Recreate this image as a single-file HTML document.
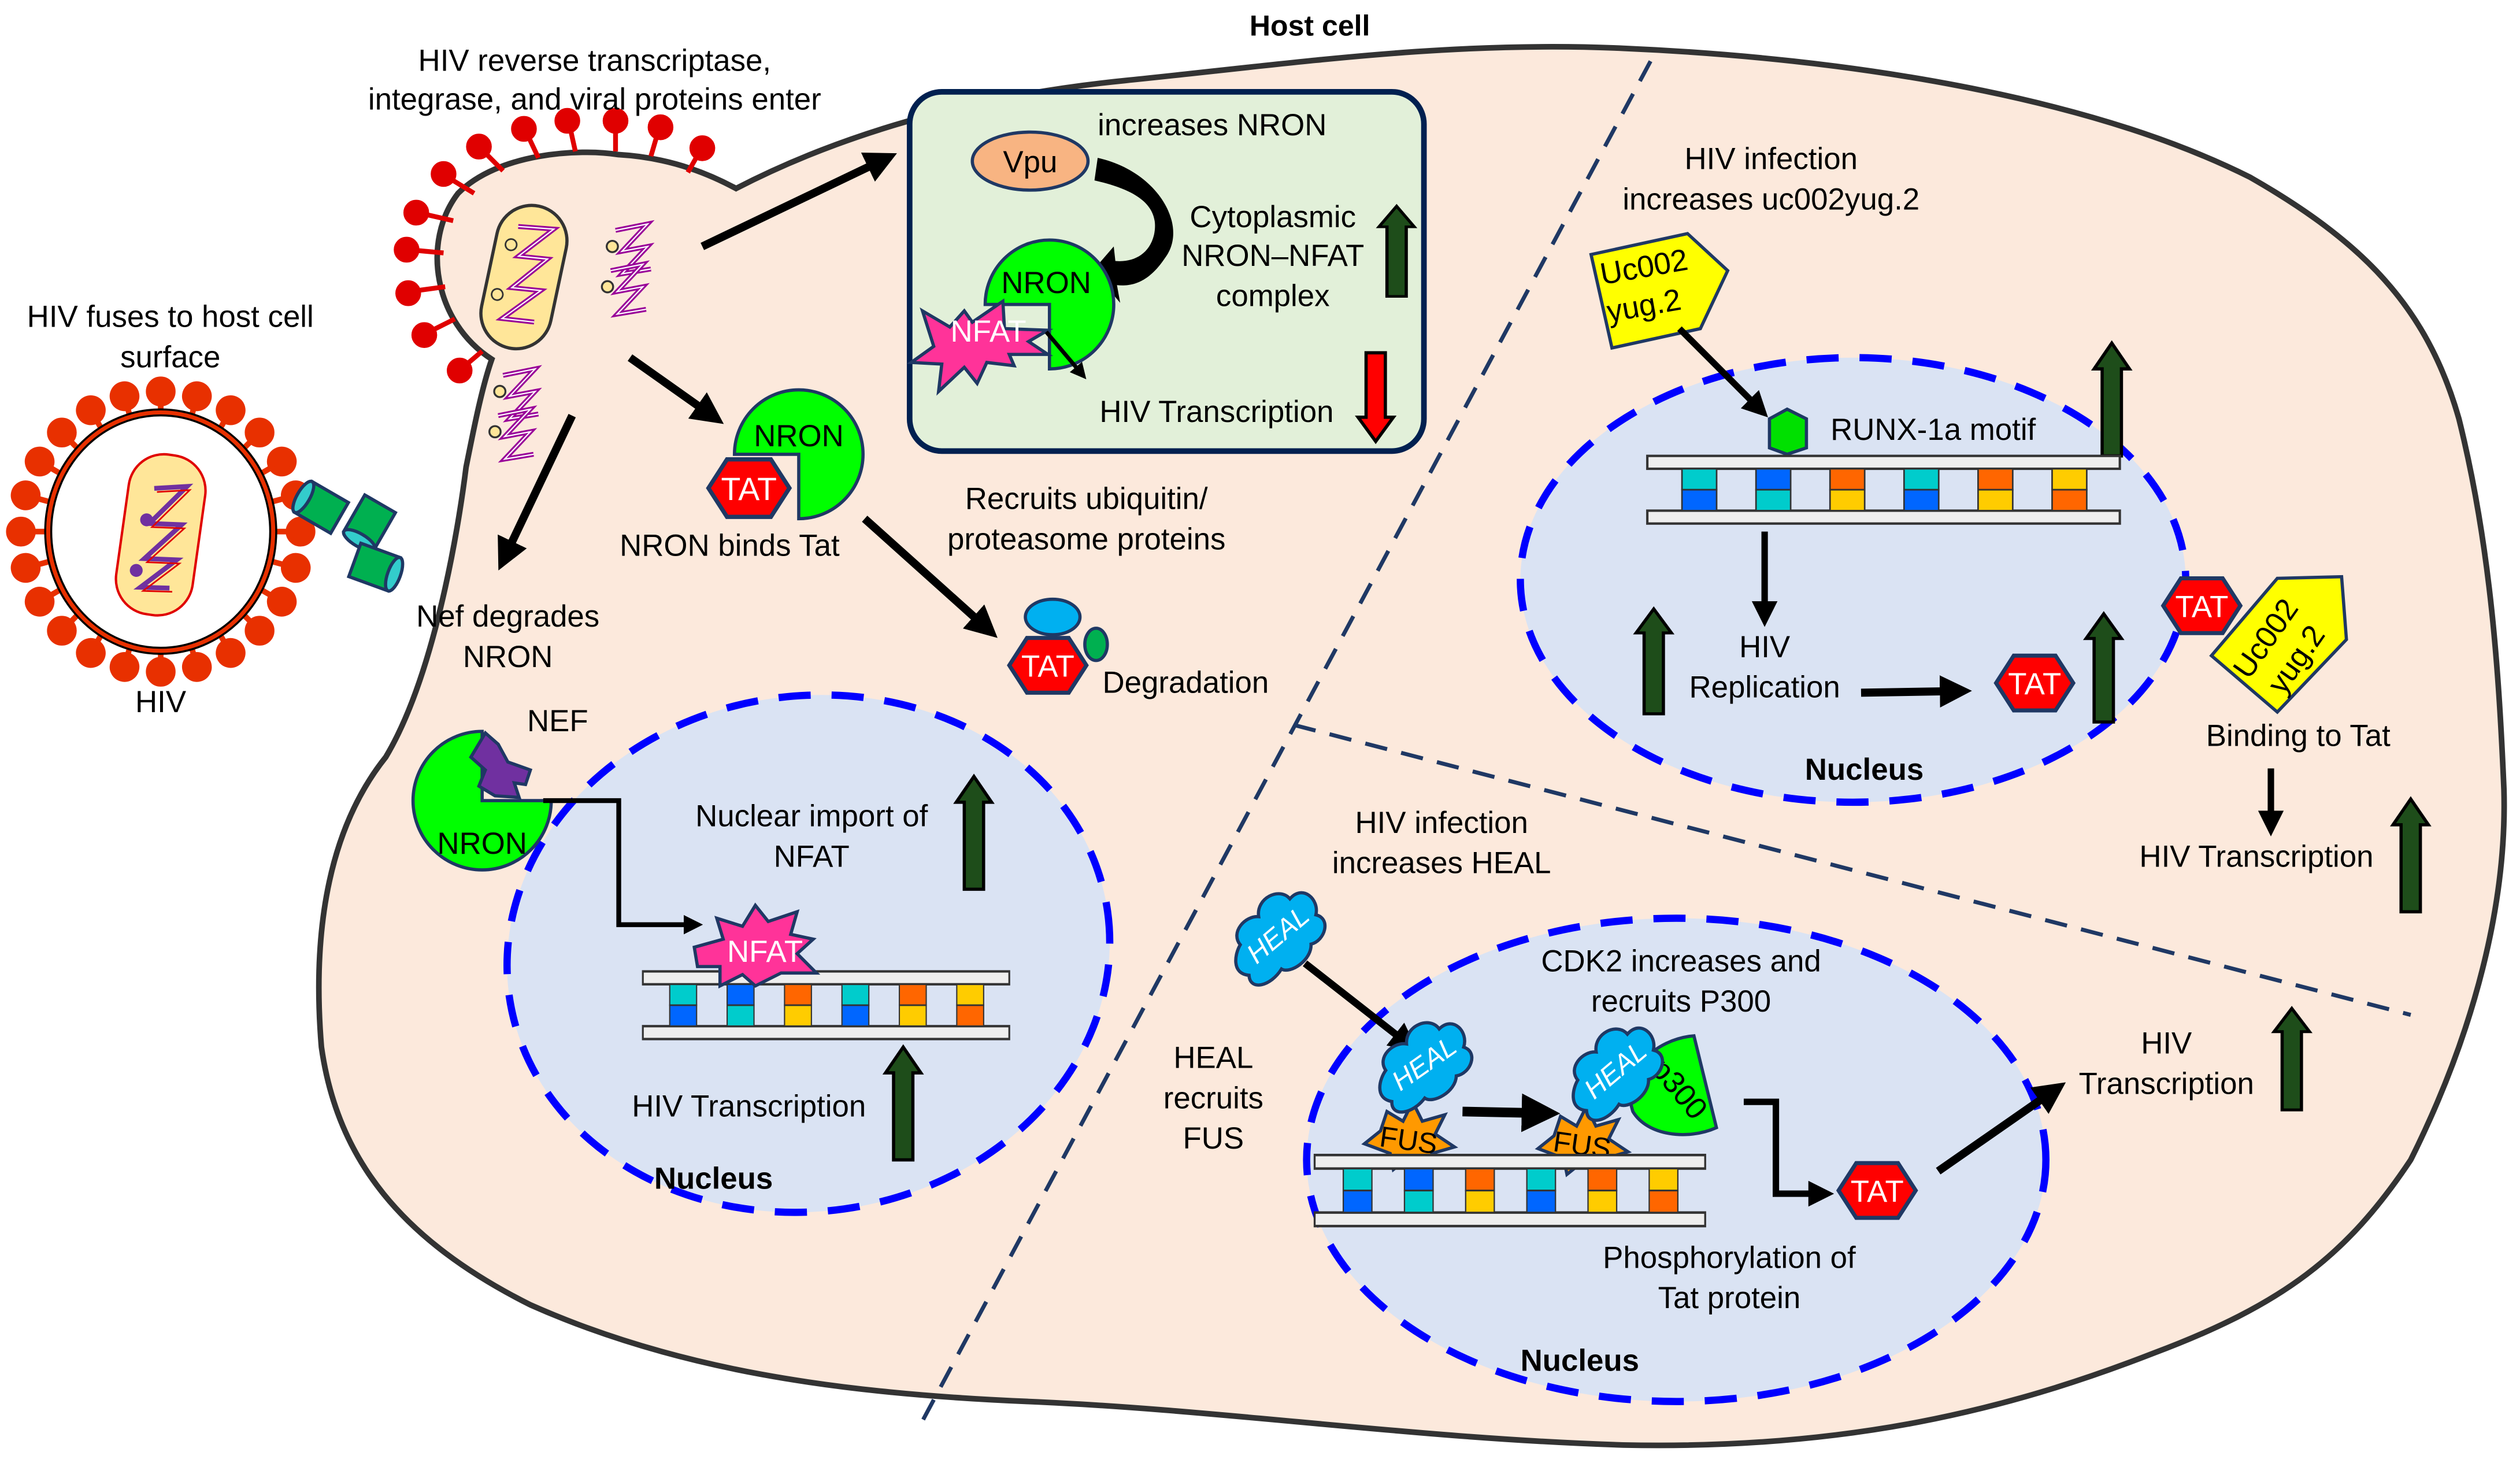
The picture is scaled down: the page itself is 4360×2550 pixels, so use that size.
<!DOCTYPE html>
<html><head><meta charset="utf-8"><style>
html,body{margin:0;padding:0;background:#fff;}
svg{display:block;}
text{font-family:"Liberation Sans",sans-serif;fill:#000;}
</style></head><body>
<svg width="4360" height="2550" viewBox="0 0 1568 915" preserveAspectRatio="none" xmlns="http://www.w3.org/2000/svg">
<defs>
<marker id="ah" markerWidth="4" markerHeight="4" refX="2.2" refY="2" orient="auto" markerUnits="strokeWidth"><path d="M0,0 L4,2 L0,4 Z" fill="#000"/></marker>
<g id="tat"><polygon points="-24,0 -13,-17 13,-17 24,0 13,17 -13,17" fill="#ff0000" stroke="#1f3864" stroke-width="2.5"/><text x="0" y="7" font-size="19" text-anchor="middle" style="fill:#fff">TAT</text></g>
<g id="up"><polygon points="-11,16 0,0 11,16 6,16 6,70 -6,70 -6,16" fill="#1e4d1a" stroke="#000" stroke-width="2"/></g>
<g id="dna">
<rect x="0" y="0" width="300" height="8" fill="#eee" stroke="#333" stroke-width="1.5"/>
<rect x="0" y="34" width="300" height="8" fill="#eee" stroke="#333" stroke-width="1.5"/>
<g stroke="#333" stroke-width="1">
<rect x="22" y="8" width="22" height="13" fill="#00cccc"/><rect x="22" y="21" width="22" height="13" fill="#0066ff"/>
<rect x="69" y="8" width="22" height="13" fill="#0066ff"/><rect x="69" y="21" width="22" height="13" fill="#00cccc"/>
<rect x="116" y="8" width="22" height="13" fill="#ff6600"/><rect x="116" y="21" width="22" height="13" fill="#ffcc00"/>
<rect x="163" y="8" width="22" height="13" fill="#00cccc"/><rect x="163" y="21" width="22" height="13" fill="#0066ff"/>
<rect x="210" y="8" width="22" height="13" fill="#ff6600"/><rect x="210" y="21" width="22" height="13" fill="#ffcc00"/>
<rect x="257" y="8" width="22" height="13" fill="#ffcc00"/><rect x="257" y="21" width="22" height="13" fill="#ff6600"/>
</g></g>
<g id="rna" fill="none"><path d="M0,0 L20,-4 L4,13 L20,10 L4,27 L22,24" stroke="#990099" stroke-width="3"/><path d="M0,0 L20,-4 L4,13 L20,10 L4,27 L22,24" stroke="#fff" stroke-width="0.8"/><circle cx="-2" cy="10" r="3.5" fill="#ffe699" stroke="#333" stroke-width="1.2"/></g>
<g id="heal"><path d="M-30,8 C-38,0 -28,-8 -22,-10 C-22,-20 -8,-22 -2,-16 C4,-26 20,-22 20,-12 C32,-14 34,0 26,6 C32,14 20,22 12,18 C6,26 -10,24 -12,18 C-24,22 -36,16 -30,8 Z" fill="#00b0f0" stroke="#1f3864" stroke-width="2"/><text x="0" y="6" font-size="17" text-anchor="middle" font-style="italic" style="fill:#fff">HEAL</text></g>
<g id="fus"><polygon points="-28,6 -18,-2 -14,-14 -4,-8 2,-20 8,-8 22,-12 16,0 28,8 14,12 10,22 0,14 -10,22 -12,12" fill="#ff9900" stroke="#1f3864" stroke-width="2"/><text x="0" y="10" font-size="18" text-anchor="middle" transform="rotate(8)">FUS</text></g>
</defs>

<!-- host cell -->
<path d="M458,117 C520,85 600,60 700,50 C800,40 900,25 1010,30 C1150,36 1300,60 1400,110 C1470,150 1510,190 1530,260 C1550,340 1555,420 1558,490 C1560,560 1540,640 1500,720 C1460,780 1420,810 1340,840 C1250,875 1150,900 1010,897 C880,893 760,875 640,870 C520,865 420,850 330,810 C250,770 210,720 200,650 C195,590 200,520 240,470 C270,420 285,330 290,290 C295,265 300,240 306,223 C270,200 262,150 285,120 C310,95 360,92 385,96 C420,98 445,110 458,117 Z" fill="#fce9dc" stroke="#333" stroke-width="3.5"/>

<!-- spikes on entering virus -->
<g stroke="#e00000" stroke-width="3" fill="#e00000">
<line x1="300" y1="218" x2="287" y2="229"/><circle cx="286" cy="230" r="6.5"/>
<line x1="283" y1="198" x2="265" y2="207"/><circle cx="264" cy="208" r="6.5"/>
<line x1="277" y1="178" x2="255" y2="181"/><circle cx="254" cy="182" r="6.5"/>
<line x1="276" y1="157" x2="254" y2="155"/><circle cx="253" cy="155" r="6.5"/>
<line x1="282" y1="137" x2="260" y2="132"/><circle cx="259" cy="132" r="6.5"/>
<line x1="295" y1="120" x2="277" y2="109"/><circle cx="276" cy="108" r="6.5"/>
<line x1="313" y1="106" x2="299" y2="92"/><circle cx="298" cy="91" r="6.5"/>
<line x1="335" y1="98" x2="327" y2="81"/><circle cx="326" cy="80" r="6.5"/>
<line x1="358" y1="94" x2="354" y2="76"/><circle cx="353" cy="75" r="6.5"/>
<line x1="383" y1="94" x2="383" y2="76"/><circle cx="383" cy="75" r="6.5"/>
<line x1="405" y1="97" x2="410" y2="80"/><circle cx="411" cy="79" r="6.5"/>
<line x1="428" y1="107" x2="436" y2="93"/><circle cx="437" cy="92" r="6.5"/>
</g>
<!-- capsid entering -->
<g transform="translate(326,172) rotate(12)"><rect x="-22" y="-45" width="44" height="90" rx="22" fill="#ffe699" stroke="#333" stroke-width="2"/>
<path d="M-10,-30 L12,-33 L-6,-12 L12,-14 L-6,8 L12,6 L-8,28 L12,26" fill="none" stroke="#990099" stroke-width="3"/>
<path d="M-10,-30 L12,-33 L-6,-12 L12,-14 L-6,8 L12,6 L-8,28 L12,26" fill="none" stroke="#fff" stroke-width="0.8"/>
<circle cx="-12" cy="-18" r="3.5" fill="#ffe699" stroke="#333"/><circle cx="-14" cy="14" r="3.5" fill="#ffe699" stroke="#333"/></g>
<use href="#rna" x="383" y="143"/>
<use href="#rna" x="380" y="168"/>
<use href="#rna" x="313" y="233"/>
<use href="#rna" x="310" y="258"/>

<!-- HIV virus outside -->
<g stroke="#e83000" stroke-width="3.5" fill="#e83000">
<g id="sp"><line x1="100" y1="262" x2="100" y2="248"/><circle cx="100" cy="243" r="7.5"/></g>
<use href="#sp" transform="rotate(15 100 330)"/><use href="#sp" transform="rotate(30 100 330)"/><use href="#sp" transform="rotate(45 100 330)"/><use href="#sp" transform="rotate(60 100 330)"/><use href="#sp" transform="rotate(75 100 330)"/><use href="#sp" transform="rotate(90 100 330)"/><use href="#sp" transform="rotate(105 100 330)"/><use href="#sp" transform="rotate(120 100 330)"/><use href="#sp" transform="rotate(135 100 330)"/><use href="#sp" transform="rotate(150 100 330)"/><use href="#sp" transform="rotate(165 100 330)"/><use href="#sp" transform="rotate(180 100 330)"/><use href="#sp" transform="rotate(195 100 330)"/><use href="#sp" transform="rotate(210 100 330)"/><use href="#sp" transform="rotate(225 100 330)"/><use href="#sp" transform="rotate(240 100 330)"/><use href="#sp" transform="rotate(255 100 330)"/><use href="#sp" transform="rotate(270 100 330)"/><use href="#sp" transform="rotate(285 100 330)"/><use href="#sp" transform="rotate(300 100 330)"/><use href="#sp" transform="rotate(315 100 330)"/><use href="#sp" transform="rotate(330 100 330)"/><use href="#sp" transform="rotate(345 100 330)"/>
</g>
<ellipse cx="100" cy="330" rx="70" ry="74" fill="#fff" stroke="#000" stroke-width="5"/>
<ellipse cx="100" cy="330" rx="70" ry="74" fill="none" stroke="#e83000" stroke-width="2.5"/>
<g transform="translate(100,332) rotate(8)"><rect x="-24" y="-50" width="48" height="100" rx="22" fill="#ffe699" stroke="#e00000" stroke-width="1.5"/>
<path d="M-8,-28 L12,-32 L-8,-6 L12,-8 L-8,16 L12,14 L-8,34 L10,32" fill="none" stroke="#7030a0" stroke-width="3"/>
<path d="M-8,-28 L12,-32 L-8,-6 L12,-8 L-8,16 L12,14 L-8,34 L10,32" fill="none" stroke="#e00000" stroke-width="1" transform="translate(2,2)"/>
<circle cx="-10" cy="-8" r="4" fill="#7030a0"/><circle cx="-12" cy="24" r="4" fill="#7030a0"/></g>
<!-- receptor cylinders -->
<g fill="#00b050" stroke="#1f3864" stroke-width="2">
<g transform="translate(200,315) rotate(30)"><rect x="-13" y="-11" width="26" height="22"/><ellipse cx="-13" cy="0" rx="4" ry="11" fill="#33cccc"/></g>
<g transform="translate(230,324) rotate(-60)"><rect x="-13" y="-11" width="26" height="22"/><ellipse cx="-13" cy="0" rx="4" ry="11" fill="#33cccc"/></g>
<g transform="translate(233,352) rotate(20)"><rect x="-13" y="-11" width="26" height="22"/><ellipse cx="13" cy="0" rx="4" ry="11" fill="#33cccc"/></g>
</g>

<!-- dashed dividers -->
<g stroke="#1f3864" stroke-width="2.5" stroke-dasharray="14,9" fill="none">
<line x1="1027" y1="38" x2="574" y2="882"/>
<line x1="805" y1="450" x2="1500" y2="630"/>
</g>

<!-- nuclei -->
<g fill="#dae3f3" stroke="#0000ff" stroke-width="4.5" stroke-dasharray="20,13">
<ellipse cx="503" cy="592" rx="188" ry="160" transform="rotate(-8 503 592)"/>
<ellipse cx="1153" cy="360" rx="207" ry="138"/>
<ellipse cx="1043" cy="720" rx="230" ry="150"/>
</g>

<!-- green box -->
<rect x="566" y="57" width="320" height="223" rx="20" fill="#e2f0d9" stroke="#002050" stroke-width="3.5"/>
<ellipse cx="641" cy="100" rx="36" ry="18" fill="#f8b482" stroke="#1f3864" stroke-width="2"/>
<text x="641" y="107" font-size="19" text-anchor="middle">Vpu</text>
<text x="683" y="84" font-size="19">increases NRON</text>
<path d="M683,98 C720,106 740,140 725,160 C715,175 705,178 695,177 L697,188 L680,168 L693,153 L694,162 C705,163 715,158 718,146 C722,128 708,118 681,112 Z" fill="#000"/>
<path d="M653,189 L653,229 A40,40 0 1 0 613,189 Z" fill="#00ff00" stroke="#1f3864" stroke-width="2"/>
<text x="651" y="182" font-size="19" text-anchor="middle">NRON</text>
<polygon points="574,193 591,203 600,193 605,200 624,187 625,204 652,205 640,212 652,220 628,220 631,227 614,225 608,238 600,228 584,243 586,226 567,225 581,215" fill="#ff3399" stroke="#1f3864" stroke-width="2"/>
<text x="615" y="212" font-size="19" text-anchor="middle" style="fill:#fff">NFAT</text>
<line x1="651" y1="206" x2="673" y2="232" stroke="#000" stroke-width="2.5" marker-end="url(#ah)"/>
<text x="792" y="141" font-size="19" text-anchor="middle">Cytoplasmic</text>
<text x="792" y="165" font-size="19" text-anchor="middle">NRON–NFAT</text>
<text x="792" y="190" font-size="19" text-anchor="middle">complex</text>
<use href="#up" transform="translate(869,128) scale(1,0.8)"/>
<text x="757" y="262" font-size="19" text-anchor="middle">HIV Transcription</text>
<polygon points="-6,0 6,0 6,40 11,40 0,55 -11,40 -6,40" transform="translate(856,219)" fill="#ff0000" stroke="#000" stroke-width="2"/>

<!-- top texts -->
<text x="815" y="22" font-size="18" font-weight="bold" text-anchor="middle">Host cell</text>
<text x="370" y="44" font-size="19" text-anchor="middle">HIV reverse transcriptase,</text>
<text x="370" y="68" font-size="19" text-anchor="middle">integrase, and viral proteins enter</text>
<text x="106" y="203" font-size="19" text-anchor="middle">HIV fuses to host cell</text>
<text x="106" y="228" font-size="19" text-anchor="middle">surface</text>
<text x="100" y="442" font-size="19" text-anchor="middle">HIV</text>

<!-- arrows from entering virus -->
<g stroke="#000" stroke-width="5" fill="none">
<line x1="437" y1="153" x2="550" y2="99" marker-end="url(#ah)"/>
<line x1="392" y1="222" x2="443" y2="258" marker-end="url(#ah)"/>
<line x1="356" y1="258" x2="314" y2="346" marker-end="url(#ah)"/>
<line x1="538" y1="322" x2="614" y2="390" marker-end="url(#ah)"/>
</g>

<!-- NRON binds Tat -->
<path d="M497,282 L497,322 A40,40 0 1 0 457,282 Z" fill="#00ff00" stroke="#1f3864" stroke-width="2"/>
<text x="497" y="277" font-size="19" text-anchor="middle">NRON</text>
<use href="#tat" transform="translate(466,303) scale(1.05)"/>
<text x="454" y="345" font-size="19" text-anchor="middle">NRON binds Tat</text>
<text x="676" y="316" font-size="19" text-anchor="middle">Recruits ubiquitin/</text>
<text x="676" y="341" font-size="19" text-anchor="middle">proteasome proteins</text>
<ellipse cx="655" cy="383" rx="17" ry="11" fill="#00b0f0" stroke="#1f3864" stroke-width="2"/>
<ellipse cx="682" cy="400" rx="7" ry="10" fill="#00b050" stroke="#1f3864" stroke-width="2"/>
<use href="#tat" transform="translate(652,413)"/>
<text x="686" y="430" font-size="19">Degradation</text>

<!-- Nef -->
<text x="316" y="389" font-size="19" text-anchor="middle">Nef degrades</text>
<text x="316" y="414" font-size="19" text-anchor="middle">NRON</text>
<text x="328" y="454" font-size="19">NEF</text>
<path d="M300,497 L343,497 A43,43 0 1 1 300,454 Z" fill="#00ff00" stroke="#1f3864" stroke-width="2"/>
<text x="300" y="530" font-size="19" text-anchor="middle">NRON</text>
<polygon points="302,455 310,462 316,473 330,478 327,487 320,486 323,495 308,494 298,488 302,478 293,470" fill="#7030a0" stroke="#1f3864" stroke-width="2"/>
<polyline points="338,497 385,497 385,574 432,574" fill="none" stroke="#000" stroke-width="3" marker-end="url(#ah)"/>

<!-- Nucleus 1 contents -->
<text x="505" y="513" font-size="19" text-anchor="middle">Nuclear import of</text>
<text x="505" y="538" font-size="19" text-anchor="middle">NFAT</text>
<use href="#up" transform="translate(606,482)"/>
<use href="#dna" transform="translate(400,603) scale(0.76,1)"/>
<polygon points="432,588 450,583 446,570 462,575 470,562 478,572 496,566 492,580 506,583 496,592 508,604 486,604 470,612 462,605 448,612 448,600 434,600" fill="#ff3399" stroke="#1f3864" stroke-width="2"/>
<text x="476" y="597" font-size="19" text-anchor="middle" style="fill:#fff">NFAT</text>
<text x="466" y="693" font-size="19" text-anchor="middle">HIV Transcription</text>
<use href="#up" transform="translate(562,650)"/>
<text x="444" y="738" font-size="19" font-weight="bold" text-anchor="middle">Nucleus</text>

<!-- Nucleus 2 (uc002) -->
<text x="1102" y="105" font-size="19" text-anchor="middle">HIV infection</text>
<text x="1102" y="130" font-size="19" text-anchor="middle">increases uc002yug.2</text>
<polygon points="990,158 1050,145 1075,168 1058,204 1003,216" fill="#ffff00" stroke="#1f3864" stroke-width="2"/>
<text x="1024" y="172" font-size="19" text-anchor="middle" transform="rotate(-10 1024 172)">Uc002</text>
<text x="1024" y="196" font-size="19" text-anchor="middle" transform="rotate(-10 1024 196)">yug.2</text>
<line x1="1045" y1="204" x2="1095" y2="254" stroke="#000" stroke-width="4" marker-end="url(#ah)"/>
<polygon points="1101,260 1112,254 1124,260 1124,278 1112,282 1101,278" fill="#00e000" stroke="#1f3864" stroke-width="2"/>
<text x="1139" y="273" font-size="19">RUNX-1a motif</text>
<use href="#up" transform="translate(1314,213)"/>
<use href="#dna" transform="translate(1025,283) scale(0.98,1)"/>
<line x1="1098" y1="330" x2="1098" y2="382" stroke="#000" stroke-width="4" marker-end="url(#ah)"/>
<text x="1098" y="408" font-size="19" text-anchor="middle">HIV</text>
<text x="1098" y="433" font-size="19" text-anchor="middle">Replication</text>
<use href="#up" transform="translate(1029,378) scale(1,0.93)"/>
<line x1="1158" y1="430" x2="1218" y2="429" stroke="#000" stroke-width="5" marker-end="url(#ah)"/>
<use href="#tat" transform="translate(1266,424)"/>
<use href="#up" transform="translate(1309,381) scale(1,0.96)"/>
<text x="1160" y="484" font-size="19" font-weight="bold" text-anchor="middle">Nucleus</text>
<use href="#tat" transform="translate(1370,376)"/>
<polygon points="1417,359 1457,358 1460,397 1417,442 1376,407" fill="#ffff00" stroke="#1f3864" stroke-width="2"/>
<text x="1415" y="400" font-size="19" text-anchor="middle" transform="rotate(-55 1415 400)">Uc002</text>
<text x="1434" y="413" font-size="19" text-anchor="middle" transform="rotate(-55 1434 413)">yug.2</text>
<text x="1430" y="463" font-size="19" text-anchor="middle">Binding to Tat</text>
<line x1="1413" y1="477" x2="1413" y2="512" stroke="#000" stroke-width="4" marker-end="url(#ah)"/>
<text x="1404" y="538" font-size="19" text-anchor="middle">HIV Transcription</text>
<use href="#up" transform="translate(1500,496)"/>

<!-- Nucleus 3 (HEAL) -->
<text x="897" y="517" font-size="19" text-anchor="middle">HIV infection</text>
<text x="897" y="542" font-size="19" text-anchor="middle">increases HEAL</text>
<use href="#heal" transform="translate(795,580) rotate(-40)"/>
<line x1="812" y1="598" x2="876" y2="648" stroke="#000" stroke-width="4.5" marker-end="url(#ah)"/>
<text x="755" y="663" font-size="19" text-anchor="middle">HEAL</text>
<text x="755" y="688" font-size="19" text-anchor="middle">recruits</text>
<text x="755" y="713" font-size="19" text-anchor="middle">FUS</text>
<text x="1046" y="603" font-size="19" text-anchor="middle">CDK2 increases and</text>
<text x="1046" y="628" font-size="19" text-anchor="middle">recruits P300</text>
<use href="#fus" transform="translate(877,704)"/>
<use href="#heal" transform="translate(886,660) rotate(-35)"/>
<line x1="910" y1="690" x2="960" y2="691" stroke="#000" stroke-width="6" marker-end="url(#ah)"/>
<use href="#fus" transform="translate(985,707)"/>
<path d="M1054,643 L1068,700 C1050,708 1025,705 1016,690 C1008,665 1030,645 1054,643 Z" fill="#00ff00" stroke="#1f3864" stroke-width="2"/>
<text x="1040" y="680" font-size="19" text-anchor="middle" transform="rotate(50 1040 680)">p300</text>
<use href="#heal" transform="translate(1005,664) rotate(-40)"/>
<use href="#dna" transform="translate(818,717) scale(0.81,1.05)"/>
<polyline points="1085,684 1105,684 1105,741 1134,741" fill="none" stroke="#000" stroke-width="4" marker-end="url(#ah)"/>
<use href="#tat" transform="translate(1168,739)"/>
<line x1="1206" y1="727" x2="1278" y2="677" stroke="#000" stroke-width="5" marker-end="url(#ah)"/>
<text x="1348" y="654" font-size="19" text-anchor="middle">HIV</text>
<text x="1348" y="679" font-size="19" text-anchor="middle">Transcription</text>
<use href="#up" transform="translate(1426,626) scale(1,0.9)"/>
<text x="1076" y="787" font-size="19" text-anchor="middle">Phosphorylation of</text>
<text x="1076" y="812" font-size="19" text-anchor="middle">Tat protein</text>
<text x="983" y="851" font-size="19" font-weight="bold" text-anchor="middle">Nucleus</text>
</svg>
</body></html>
